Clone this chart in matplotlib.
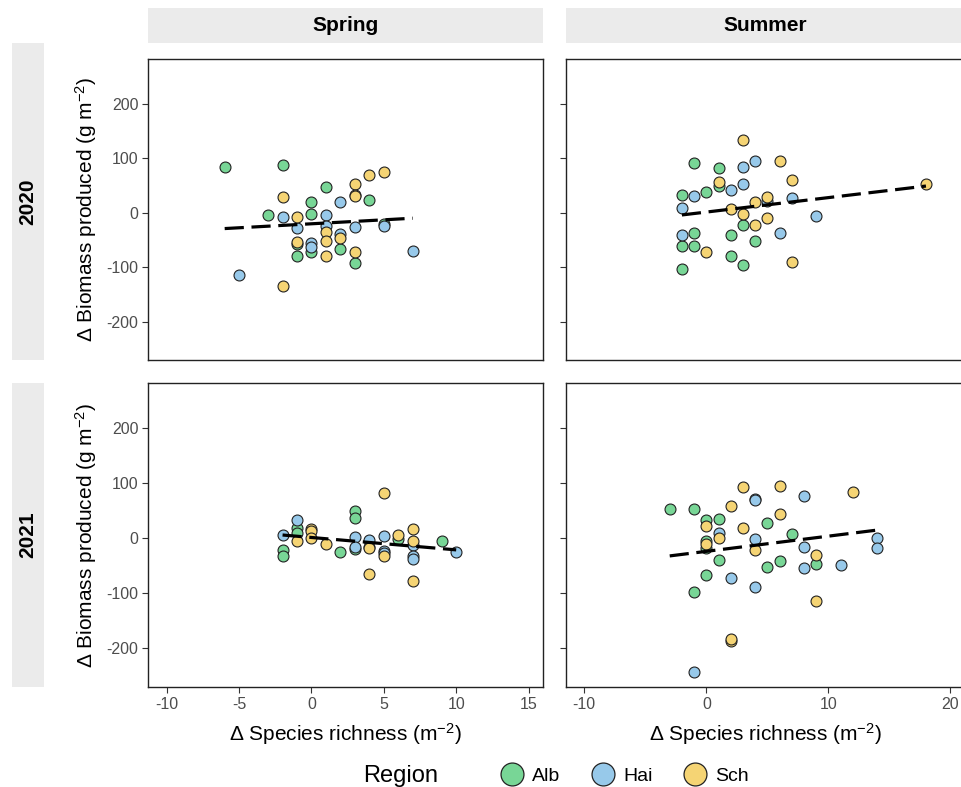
import matplotlib.pyplot as plt
from matplotlib.lines import Line2D
import numpy as np

plt.rcParams['font.family'] = ['Liberation Sans', 'DejaVu Sans']
plt.rcParams['mathtext.fontset'] = 'custom'
plt.rcParams['mathtext.rm'] = 'Liberation Sans'
plt.rcParams['mathtext.it'] = 'Liberation Sans:italic'
plt.rcParams['mathtext.default'] = 'regular'
plt.rcParams['axes.unicode_minus'] = False

regions = ['Alb', 'Hai', 'Sch']
colors = {'Alb': '#78D696', 'Hai': '#97C9EA', 'Sch': '#F5D474'}
seasons = ['Spring', 'Summer']
years = ['2020', '2021']

# 2020 spring
sp20_x = [-6, -2, -3, -1, -1, 0, 0, 0, 1, 2, 3, 4, 5,
          -5, -2, -1, 0, 0, 1, 1, 2, 2, 3, 5, 7,
          -2, -2, -1, -1, 1, 1, 1, 2, 3, 3, 3, 3, 4, 5]
sp20_y = [84, 87, -4, -58, -80, 19, -2, -72, 48, -67, -93, 24, -20,
          -115, -8, -28, -55, -63, -4, -25, 20, -39, -26, -24, -71,
          -134, 29, -8, -54, -35, -52, -80, -46, 52, 33, 31, -72, 69, 74]
sp20_reg = ['Alb'] * 13 + ['Hai'] * 12 + ['Sch'] * 14

# 2020 summer
su20_x = [-1, 1, 1, -2, 0, 3, -1, 2, 4, -2, -1, 2, 3, -2,
          3, 4, 3, -1, 2, -2, 5, 7, 9, -2, 6,
          3, 6, 1, 7, 18, 2, 4, 5, 3, 4, 5, 0, 7]
su20_y = [91, 83, 49, 32, 39, -22, -37, -41, -52, -61, -61, -80, -95, -104,
          84, 95, 52, 30, 41, 9, 22, 27, -6, -41, -37,
          134, 95, 56, 61, 52, 7, 19, 29, -2, -22, -9, -72, -91]
su20_reg = ['Alb'] * 14 + ['Hai'] * 11 + ['Sch'] * 13

# 2021 spring
sp21_x = [-2, -2, -1, -1, 2, 3, 3, 3, 6, 9,
          -2, -1, 3, 3, 4, 5, 5, 5, 7, 7, 7, 10,
          -1, 0, 0, 0, 1, 4, 4, 4, 5, 5, 6, 7, 7, 7]
sp21_y = [-22, -33, 19, 10, -24, 50, 36, -20, -2, -5,
          6, 34, 2, -15, -3, 4, -23, -27, -13, -32, -37, -24,
          -4, 16, 13, 1, -10, -15, -18, -65, 82, -33, 6, 17, -5, -78]
sp21_reg = ['Alb'] * 10 + ['Hai'] * 12 + ['Sch'] * 14

# 2021 summer
su21_x = [-3, -1, -1, 0, 0, 0, 0, 1, 1, 5, 5, 6, 7, 9,
          -1, 1, 2, 4, 4, 4, 4, 8, 8, 8, 11, 14, 14,
          0, 0, 1, 2, 2, 2, 3, 3, 4, 6, 6, 9, 9, 12]
su21_y = [54, 54, -98, 33, -4, -18, -67, 35, -39, 28, -52, -41, 8, -46,
          -243, 10, -72, 71, 69, -2, -89, 76, -15, -54, -48, 0, -18,
          23, -11, 0, -186, 58, -182, 93, 19, -22, 95, 45, -31, -113, 84]
su21_reg = ['Alb'] * 14 + ['Hai'] * 13 + ['Sch'] * 14

# fitted lines (slope, intercept)
fit_slope = [[1.46, 2.65], [-2.25, 2.76]]
fit_icpt = [[-20.2, 1.3], [1.5, -23.7]]

panels = [[(sp20_x, sp20_y, sp20_reg), (su20_x, su20_y, su20_reg)],
          [(sp21_x, sp21_y, sp21_reg), (su21_x, su21_y, su21_reg)]]

W, H = 961, 787
fig = plt.figure(figsize=(W / 100, H / 100), dpi=100)


def px_axes(x0, y0, x1, y1):
    return fig.add_axes([x0 / W, 1 - y1 / H, (x1 - x0) / W, (y1 - y0) / H])


col_px = [(148, 543), (566, 965)]
row_px = [(59, 360), (383, 687)]
xlims = [(-11.3, 16.0), (-11.5, 21.2)]
xticks = [[-10, -5, 0, 5, 10, 15], [-10, 0, 10, 20]]
ylim = (-270, 282)
yticks = [-200, -100, 0, 100, 200]
tick_col = '#4D4D4D'
strip_col = '#EBEBEB'

for r in range(2):
    for c in range(2):
        ax = px_axes(col_px[c][0], row_px[r][0], col_px[c][1], row_px[r][1])
        x, y, reg = panels[r][c]
        x = np.array(x)
        y = np.array(y)
        reg = np.array(reg)
        for g in regions:
            m = reg == g
            ax.scatter(x[m], y[m], s=62, color=colors[g], edgecolor='#222222',
                       linewidth=0.8, zorder=2)
        xs = np.array([x.min(), x.max()])
        ax.plot(xs, fit_icpt[r][c] + fit_slope[r][c] * xs, color='black',
                lw=2.3, linestyle=(0, (6, 2.4)), zorder=3)
        ax.set_xlim(xlims[c])
        ax.set_ylim(ylim)
        ax.set_xticks(xticks[c])
        ax.set_yticks(yticks)
        for s in ax.spines.values():
            s.set_linewidth(1.0)
            s.set_color('#222222')
        ax.tick_params(length=4, width=0.8, color='#333333', labelsize=11.5,
                       labelcolor=tick_col, pad=3)
        if r == 0:
            ax.tick_params(axis='x', bottom=False, labelbottom=False)
        else:
            ax.set_xlabel('\u0394 Species richness (m$^{-2}$)', fontsize=15,
                          color='black', labelpad=7)
        if c == 1:
            ax.tick_params(axis='y', labelleft=False)
        else:
            ax.set_ylabel('\u0394 Biomass produced (g m$^{-2}$)', fontsize=15,
                          color='black', labelpad=5)

# column strips
for c in range(2):
    sa = px_axes(col_px[c][0], 8, col_px[c][1], 43)
    sa.set_facecolor(strip_col)
    sa.set_xticks([])
    sa.set_yticks([])
    for s in sa.spines.values():
        s.set_visible(False)
    sa.text(0.5, 0.5, seasons[c], transform=sa.transAxes, ha='center',
            va='center', fontsize=15, fontweight='bold')

# row strips
row_strip = [(43, 360), (383, 687)]
for r in range(2):
    sa = px_axes(12, row_strip[r][0], 44, row_strip[r][1])
    sa.set_facecolor(strip_col)
    sa.set_xticks([])
    sa.set_yticks([])
    for s in sa.spines.values():
        s.set_visible(False)
    sa.text(0.5, 0.5, years[r], transform=sa.transAxes, ha='center',
            va='center', fontsize=15, fontweight='bold', rotation=90)

# legend
fig.text(363 / W, 1 - 782 / H, 'Region', fontsize=17, va='baseline')
handles = [Line2D([], [], marker='o', linestyle='none', markersize=16.5,
                  markerfacecolor=colors[g], markeredgecolor='#222222',
                  markeredgewidth=0.9) for g in regions]
fig.legend(handles, regions, loc='center left',
           bbox_to_anchor=(500 / W, 1 - 776 / H), ncol=3, frameon=False,
           fontsize=14, handlelength=1.24, handletextpad=0.42,
           columnspacing=1.55, borderpad=0, borderaxespad=0)

fig.savefig('out.png', dpi=100)
